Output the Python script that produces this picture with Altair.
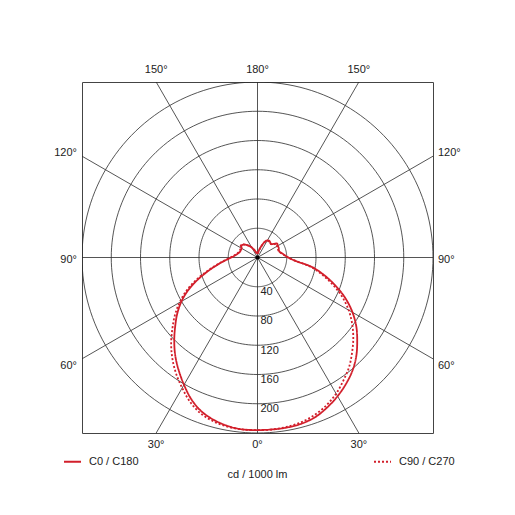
import altair as alt
import pandas as pd
import numpy as np

# ---------------- data ----------------
gamma = list(range(0, 181, 5))  # degrees from nadir (0 = down, 180 = up)

c0 = [236, 236, 236, 235, 232, 226, 219, 211, 202, 191, 178, 165, 150, 133, 114, 95, 76, 52,
      42, 37, 34, 31, 31, 32, 32, 33, 29, 26, 27, 28, 27, 24, 18, 13, 9, 6, 5]
c180 = [236, 236, 234, 230, 224, 214, 201, 188, 175, 161, 147, 134, 120, 104, 86, 69, 55, 44,
        36, 31, 28, 26, 25, 25, 25, 27, 27, 25, 22, 19, 16, 12, 9, 7, 7, 6, 5]
c90 = [236, 236, 235, 233, 229, 223, 215, 205, 195, 183, 171, 158, 144, 128, 110, 92, 74, 52,
       42, 37, 33, 31, 30, 31, 31, 32, 28, 26, 27, 27, 26, 23, 17, 12, 8, 6, 5]
c270 = [236, 236, 235, 232, 227, 218, 206, 194, 181, 167, 152, 138, 123, 107, 89, 71, 56, 45,
        37, 32, 29, 27, 26, 26, 26, 28, 28, 25, 22, 19, 16, 13, 10, 8, 7, 6, 5]

series_names = ["C0 / C180", "C90 / C270"]
ring_values = [40, 80, 120, 160, 200, 240]
ring_labels = [40, 80, 120, 160, 200]
spoke_angles = [0, 30, 60, 90, 120, 150]
edge_labels = ["30°", "0°", "30°", "150°", "180°", "150°"]
edge_gamma = [30, 0, 30, 150, 180, 150]
edge_side = [-1, 0, 1, -1, 0, 1]
side_labels = ["60°", "90°", "120°"]
side_gamma = [60, 90, 120]
unit_label = "cd / 1000 lm"

RED = "#d21f2b"
GRID = "#2a2a2a"
FONT = "Liberation Sans"
R = 240

# ---------------- tables ----------------
rows = []
for name, right, left in [(series_names[0], c0, c180), (series_names[1], c90, c270)]:
    for g, v in zip(gamma, right):
        rows.append({"series": name, "a": g, "r": v})
    for g, v in zip(gamma, left):
        if g == 0:
            continue
        rows.append({"series": name, "a": -g, "r": v})
curves = pd.DataFrame(rows)

ring_rows = []
for rv in ring_values:
    for t in range(0, 361, 2):
        ring_rows.append({"ring": rv, "t": t})
rings = pd.DataFrame(ring_rows)

spokes = pd.DataFrame({"g": spoke_angles})
rlab = pd.DataFrame({"v": ring_labels, "txt": [str(v) for v in ring_labels]})
elab = pd.DataFrame({"txt": edge_labels, "g": edge_gamma, "s": edge_side})
slab = pd.DataFrame({"txt": side_labels, "g": side_gamma})
center = pd.DataFrame({"x": [0], "y": [0]})
unit = pd.DataFrame({"txt": [unit_label]})

sc = alt.Scale(domain=[-R, R], nice=False, zero=False)
X = lambda f: alt.X(f, type="quantitative", scale=sc, axis=None)
Y = lambda f: alt.Y(f, type="quantitative", scale=sc, axis=None)

ring_layer = alt.Chart(rings).transform_calculate(
    x="datum.ring*sin(datum.t*PI/180)", y="datum.ring*cos(datum.t*PI/180)"
).mark_line(color=GRID, strokeWidth=0.8, clip=True).encode(
    x=X("x"), y=Y("y"), detail="ring:N", order="t:Q"
)

spoke_layer = alt.Chart(spokes).transform_calculate(
    x="400*sin(datum.g*PI/180)", y="-400*cos(datum.g*PI/180)",
    x2="-400*sin(datum.g*PI/180)", y2="400*cos(datum.g*PI/180)",
).mark_rule(color=GRID, strokeWidth=0.8, clip=True).encode(
    x=X("x"), y=Y("y"), x2="x2:Q", y2="y2:Q"
)

curve_layer = alt.Chart(curves).transform_calculate(
    x="datum.r*sin(datum.a*PI/180)", y="-datum.r*cos(datum.a*PI/180)"
).mark_line(color=RED, strokeWidth=1.8, clip=True, interpolate="catmull-rom").encode(
    x=X("x"), y=Y("y"), order="a:Q",
    strokeDash=alt.StrokeDash(
        "series:N",
        scale=alt.Scale(domain=series_names, range=[[1, 0], [2, 2]]),
        legend=alt.Legend(
            title=None, orient="none", legendX=-19, legendY=370,
            direction="horizontal", columns=2, columnPadding=231,
            symbolType="stroke", symbolSize=289, symbolStrokeColor=RED,
            symbolStrokeWidth=2, labelFont=FONT, labelFontSize=11,
            labelColor="#222", labelOffset=7, padding=0,
        ),
    ),
)

center_layer = alt.Chart(center).mark_point(
    filled=True, color="black", size=18, opacity=1
).encode(x=X("x"), y=Y("y"))

ring_text = alt.Chart(rlab).transform_calculate(
    y="-(datum.v + 7.5)", zero="0"
).mark_text(align="left", baseline="middle", dx=3, font=FONT, fontSize=11, color="#222").encode(
    x=X("zero"), y=Y("y"), text="txt:N"
)

edge_text = alt.Chart(elab).transform_calculate(
    x="datum.s*240*abs(tan(datum.g*PI/180))",
    y="datum.g < 90 ? -256 : 256",
).mark_text(align="center", baseline="middle", font=FONT, fontSize=11, color="#222").encode(
    x=X("x"), y=Y("y"), text="txt:N"
)

side_calc = {"y": "-253*cos(datum.g*PI/180)/sin(datum.g*PI/180)"}
left_text = alt.Chart(slab).transform_calculate(xl="-240", **side_calc).mark_text(
    align="right", baseline="middle", dx=-5, dy=2, font=FONT, fontSize=11, color="#222"
).encode(x=X("xl"), y=Y("y"), text="txt:N")
right_text = alt.Chart(slab).transform_calculate(xr="240", **side_calc).mark_text(
    align="left", baseline="middle", dx=5, dy=2, font=FONT, fontSize=11, color="#222"
).encode(x=X("xr"), y=Y("y"), text="txt:N")

unit_text = alt.Chart(unit).transform_calculate(ux="0", uy="-297.7").mark_text(
    align="center", baseline="middle", font=FONT, fontSize=11, color="#222"
).encode(x=X("ux"), y=Y("uy"), text="txt:N")

chart = alt.layer(
    ring_layer, spoke_layer, curve_layer, center_layer,
    ring_text, edge_text, left_text, right_text, unit_text,
).properties(
    width=351, height=351,
    autosize=alt.AutoSizeParams(type="none"),
    padding={"left": 74, "top": 74, "right": 74, "bottom": 74},
    background="white",
).configure_view(stroke="#444", strokeWidth=1)

chart.save("out.html", embed_options={"renderer": "svg", "actions": False})
